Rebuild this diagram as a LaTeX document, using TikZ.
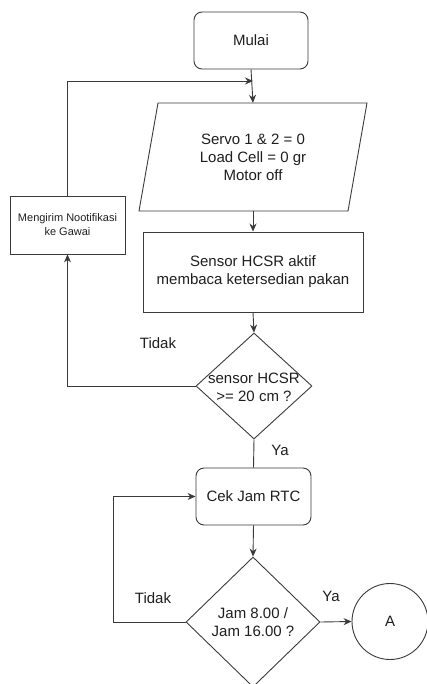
\documentclass[tikz,border=0pt]{standalone}
\usepackage{fontspec}
\setmainfont{Liberation Sans}
\usetikzlibrary{shapes.geometric,arrows.meta}
\definecolor{edge}{HTML}{3A3A3A}
\definecolor{ink}{HTML}{1E1E1E}
\begin{document}
\begin{tikzpicture}[x=1pt,y=-1pt,
  every node/.style={text=ink,font=\fontsize{15}{18}\selectfont,align=center,inner sep=0pt},
  shapebox/.style={draw=edge,line width=0.9pt},
  roundbox/.style={shapebox,rectangle,rounded corners=8pt},
  plainbox/.style={shapebox,rectangle},
  decision/.style={shapebox,diamond},
  link/.style={draw=edge,line width=0.9pt},
  flow/.style={link,-{Stealth[length=8pt,width=7pt]}},
  tag/.style={font=\fontsize{15}{18}\selectfont}]
\useasboundingbox (0,0) rectangle (427,684);

% process boxes
\node[roundbox,minimum width=114pt,minimum height=57pt] (mulai) at (251,40.5) {Mulai};
% input block: text node plus its slanted outline
\node[minimum width=209pt,minimum height=108pt] (init) at (253,157)
  {Servo 1 \& 2 = 0\\Load Cell = 0 gr\\Motor off};
\draw[shapebox,line join=miter] (139,211) -- (158,103) -- (367,103) -- (348,211) -- cycle;
\node[plainbox,minimum width=220pt,minimum height=80pt] (sensor) at (253,272)
  {Sensor HCSR aktif\\membaca ketersedian pakan};
\node[decision,minimum width=116pt,minimum height=106pt] (cek1) at (254,386) {};
\node (cek1t) at (254,387) {sensor HCSR\\>= 20 cm ?};
\node[plainbox,minimum width=115pt,minimum height=58pt,font=\fontsize{11}{14}\selectfont] (notif) at (67.5,225)
  {Mengirim Nootifikasi\\ke Gawai};
\node[roundbox,minimum width=115pt,minimum height=57pt] (rtc) at (253.5,496.5) {Cek Jam RTC};
\node[decision,minimum width=134pt,minimum height=130pt] (cek2) at (253,622) {};
\node (cek2t) at (253,622) {Jam 8.00 /\\Jam 16.00 ?};
\node[shapebox,circle,minimum size=76pt] (A) at (390,621.5) {A};

% joint of the feedback line
\coordinate (join) at (253,81);

% connectors
\draw[flow] (mulai.south) -- (init.north);
\draw[flow] (notif.north) |- (join);
\draw[flow] (init.south) -- (sensor.north);
\draw[flow] (sensor.south) -- (cek1.north);
\draw[flow] (cek1.west) -| (notif.south);
\draw[link] (cek1.south) -- (rtc.north);
\draw[flow] (rtc.south) -- (cek2.north);
\draw[flow] (cek2.west) -- (113,622) |- (rtc.west);
\draw[flow] (cek2.east) -- (A.west);

% branch labels
\node[tag] (l1) at (158,343) {Tidak};
\node[tag] (l2) at (280,450) {Ya};
\node[tag] (l3) at (153,598) {Tidak};
\node[tag] (l4) at (331,596) {Ya};
\end{tikzpicture}
\end{document}
